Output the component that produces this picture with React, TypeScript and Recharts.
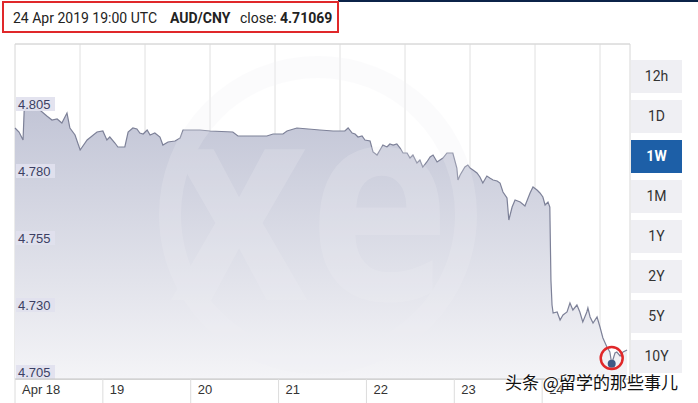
import React from 'react';
import {
  ComposedChart,
  Area,
  XAxis,
  YAxis,
  CartesianGrid,
  ReferenceArea,
  ReferenceDot,
  ReferenceLine,
} from 'recharts';

// hours since 18 Apr 2019 00:00 UTC
const HOURS = [
  0, 1.1, 2.2, 2.5, 3.3, 4.9, 6.8, 8.7, 10.1, 11.5, 12.8, 14.2, 15.0, 16.4, 17.8, 19.7, 22.4,
  24.0, 25.1, 25.9, 27.3, 28.1, 30.0, 30.9, 32.2, 33.3, 34.1, 35.0, 36.1, 36.9, 38.2, 39.6, 40.4,
  41.8, 43.7, 45.1, 45.9, 50.5, 53.3, 59.5, 60.9, 64.2, 68.8, 70.5, 73.2, 74.3, 77.0, 83.3, 86.9,
  90.1, 91.0, 92.1, 92.9, 93.7, 94.8, 95.6, 97.0, 97.8, 98.9, 99.7, 100.5, 101.6, 102.4, 103.3,
  104.3, 105.2, 106.0, 107.1, 107.9, 108.7, 109.8, 110.6, 111.4, 112.5, 113.4, 114.2, 115.3,
  116.1, 116.9, 118.0, 118.8, 119.6, 120.7, 121.0, 121.6, 122.9, 123.7, 124.3, 125.1, 126.2,
  127.0, 127.8, 128.9, 129.7, 130.6, 131.7, 132.5, 133.3, 134.4, 134.9, 135.8, 136.6, 138.0,
  139.3, 140.7, 141.5, 142.6, 143.4, 144.2, 144.8, 145.6, 146.1, 146.4, 146.7, 147.0, 148.1,
  148.9, 149.7, 150.8, 151.6, 152.4, 153.5, 154.3, 155.1, 156.2, 156.5, 157.1, 157.9, 159.0,
  159.8, 160.6, 161.7, 162.5, 163.0, 163.9, 164.4, 165.3, 166.1, 167.2,
];

// AUD/CNY rate
const RATES = [
  4.79866, 4.79716, 4.79418, 4.805, 4.80612, 4.80575, 4.80537, 4.80313, 4.80164, 4.80201, 4.80052,
  4.80425, 4.79866, 4.79604, 4.79045, 4.79418, 4.79716,
  4.79754, 4.79418, 4.7953, 4.79306, 4.79157, 4.79157, 4.79716, 4.79866, 4.79828, 4.79679,
  4.79642, 4.79791, 4.79604, 4.79679, 4.7953, 4.79231,
  4.79343, 4.7938, 4.79492, 4.79791, 4.79791, 4.79754, 4.79716, 4.79567, 4.79567, 4.79567,
  4.79642, 4.79642, 4.79754, 4.79866, 4.79791, 4.79754,
  4.79754, 4.79866, 4.79679, 4.79642, 4.7953, 4.79567, 4.79418, 4.7938, 4.7897, 4.78858,
  4.79045, 4.79231, 4.79157, 4.79269, 4.79231,
  4.79269, 4.79119, 4.78933, 4.78933, 4.78746, 4.78858, 4.7856, 4.78672, 4.7841, 4.78597,
  4.78783, 4.78858, 4.78597,
  4.78672, 4.78746, 4.78933, 4.78933, 4.78933, 4.78373, 4.77925, 4.78112, 4.7841, 4.78485,
  4.78373, 4.78298, 4.78186,
  4.78037, 4.77813, 4.78075, 4.78, 4.77925, 4.77888, 4.77813, 4.77478, 4.77254, 4.76433,
  4.76918, 4.77179, 4.77104,
  4.76955, 4.7744, 4.77664, 4.77552, 4.7744, 4.77291, 4.76992, 4.77104, 4.76918, 4.74194,
  4.73261, 4.72963, 4.73,
  4.72701, 4.72888, 4.73, 4.73336, 4.73075, 4.73261, 4.73, 4.72627, 4.73, 4.73149, 4.72813,
  4.7259, 4.72813,
  4.7244, 4.7203, 4.71694, 4.71507, 4.71069, 4.7147, 4.71507, 4.71358, 4.71507, 4.71582,
];

const DAY_TICKS = [0, 24, 48, 72, 96, 120, 144];
const DAY_LABELS = ['Apr 18', '19', '20', '21', '22', '23', '24'];
const RATE_TICKS = [4.705, 4.73, 4.755, 4.78, 4.805];
const RANGES = ['12h', '1D', '1W', '1M', '1Y', '2Y', '5Y', '10Y'];
const ACTIVE_RANGE = '1W';
const CLOSE_HOUR = 163;
const CLOSE_RATE = 4.71069;

const data = HOURS.map((h, i) => ({ h, rate: RATES[i] }));

const DayTick = (props: any) => {
  const { x, y, payload } = props;
  const idx = DAY_TICKS.indexOf(payload.value);
  return (
    <g>
      <line x1={x} y1={y} x2={x} y2={y + 26} stroke="#dcdcdc" />
      <text x={x + 7} y={y + 15} fontSize={13} fill="#333" fontFamily="'Liberation Sans', Arial, sans-serif">
        {DAY_LABELS[idx]}
      </text>
    </g>
  );
};

// y labels sit inside the plot, above their grid line, on a pale box
const RateLabel = (props: any) => {
  const { viewBox, text } = props;
  if (!viewBox) return null;
  const { x, y } = viewBox;
  return (
    <g>
      <rect x={x + 1} y={y - 14} width={39} height={14} fill="#e1e1ee" fillOpacity={0.92} />
      <text x={x + 3} y={y - 2.5} fontSize={13} fill="#3c3f63" fontFamily="'Liberation Sans', Arial, sans-serif">
        {text}
      </text>
    </g>
  );
};

const headStyle = (left: number, bold: boolean): React.CSSProperties => ({
  position: 'absolute',
  left,
  top: 4,
  height: 28,
  lineHeight: '28px',
  fontSize: 14,
  color: '#222',
  fontWeight: bold ? 700 : 400,
  whiteSpace: 'nowrap',
});

export default function App() {
  return (
    <div
      style={{
        position: 'fixed',
        left: 0,
        top: 0,
        width: 698,
        height: 403,
        background: '#fff',
        overflow: 'hidden',
        fontFamily: 'Roboto, sans-serif',
      }}
    >
      <div style={{ position: 'absolute', left: 338, top: 0, width: 360, height: 2, background: '#0b2348' }} />
      <div
        style={{
          position: 'absolute',
          left: 2,
          top: 1,
          width: 333,
          height: 28,
          border: '2.5px solid #e0282a',
        }}
      />
      <div style={headStyle(13, false)}>24 Apr 2019 19:00 UTC</div>
      <div style={headStyle(170, true)}>AUD/CNY</div>
      <div style={headStyle(240, false)}>close:</div>
      <div style={headStyle(280, true)}>4.71069</div>

      <div style={{ position: 'absolute', left: 0, top: 0 }}>
        <ComposedChart width={698} height={403} data={data} margin={{ top: 44, right: 68, bottom: 0, left: 15 }}>
          <defs>
            <linearGradient id="rateFill" x1="0" y1="0" x2="0" y2="1">
              <stop offset="0%" stopColor="#c2c5d6" />
              <stop offset="100%" stopColor="#f4f4f7" />
            </linearGradient>
          </defs>
          <CartesianGrid
            stroke="#e0e0e0"
            verticalCoordinatesGenerator={({ offset }: any) => {
              const pts: number[] = [];
              for (let px = offset.left + 65; px < offset.left + offset.width; px += 65) pts.push(px);
              return pts;
            }}
          />
          <XAxis
            dataKey="h"
            type="number"
            domain={[0, 168]}
            ticks={DAY_TICKS}
            height={24}
            tickSize={0}
            tickMargin={0}
            axisLine={{ stroke: '#c4c4c4' }}
            tick={<DayTick />}
            interval={0}
          />
          <YAxis type="number" domain={[4.705, 4.83]} ticks={RATE_TICKS} width={0} tick={false} axisLine={false} />
          <ReferenceArea x1={0} x2={168} y1={4.705} y2={4.83} fill="none" stroke="#d6d6d6" />
          <Area
            type="linear"
            dataKey="rate"
            stroke="#7d8198"
            strokeWidth={1.2}
            fill="url(#rateFill)"
            fillOpacity={1}
            baseValue={4.705}
            dot={false}
            activeDot={false}
            isAnimationActive={false}
          />
          {RATE_TICKS.map((t) => (
            <ReferenceLine
              key={t}
              y={t}
              stroke="none"
              label={<RateLabel text={t.toFixed(3)} />}
            />
          ))}
          <ReferenceDot x={CLOSE_HOUR} y={CLOSE_RATE} r={4} fill="#3f5a86" stroke="none" />
          <ReferenceDot x={CLOSE_HOUR} y={4.7128} r={11} fill="none" stroke="#e0282a" strokeWidth={2.5} />
        </ComposedChart>
      </div>

      {/* faint xe watermark */}
      <svg
        width={698}
        height={403}
        style={{ position: 'absolute', left: 0, top: 0, pointerEvents: 'none' }}
      >
        <g opacity={0.22} fill="#f0f0f5" stroke="none">
          <circle cx={318} cy={215} r={148} fill="none" stroke="#f0f0f5" strokeWidth={22} />
          <text
            x={310}
            y={300}
            textAnchor="middle"
            fontSize={240}
            fontWeight={700}
            fontFamily="'Open Sans', sans-serif"
            transform="translate(310 300) scale(1 1.15) translate(-310 -300)"
          >
            xe
          </text>
        </g>
      </svg>

      {RANGES.map((r, i) => {
        const active = r === ACTIVE_RANGE;
        return (
          <div
            key={r}
            style={{
              position: 'absolute',
              left: 631,
              top: 60 + i * 40,
              width: 51,
              height: 33,
              lineHeight: '33px',
              textAlign: 'center',
              fontSize: 14,
              background: active ? '#1d5fa7' : '#efeff3',
              color: active ? '#fff' : '#333',
              fontWeight: active ? 700 : 400,
            }}
          >
            {r}
          </div>
        );
      })}

      <div
        style={{
          position: 'absolute',
          left: 505,
          top: 369,
          fontSize: 17,
          fontFamily: "'Noto Sans CJK SC', sans-serif",
          color: '#111',
          whiteSpace: 'nowrap',
          textShadow: '0 0 2px #fff, 0 0 2px #fff, 0 0 2px #fff',
        }}
      >
        头条 @留学的那些事儿
      </div>
    </div>
  );
}
